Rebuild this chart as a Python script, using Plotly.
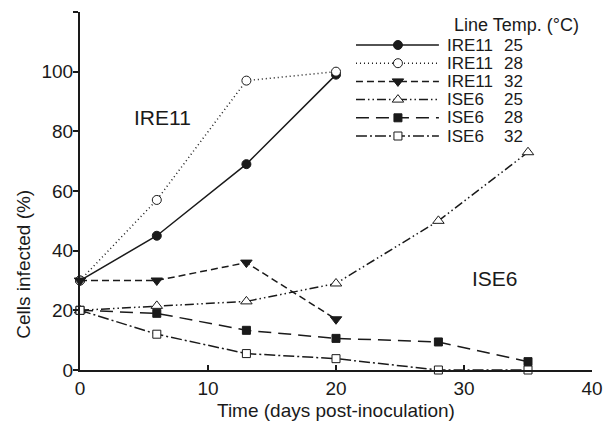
import plotly.graph_objects as go

# ---- data ----
lines_ = ["IRE11", "IRE11", "IRE11", "ISE6", "ISE6", "ISE6"]
temps = ["25", "28", "32", "25", "28", "32"]

days_ire = [0, 6, 13, 20]
days_ise = [0, 6, 13, 20, 28, 35]

ire11_25 = [30, 45, 69, 99]
ire11_28 = [30, 57, 97, 100]
ire11_32 = [30, 30, 36, 17]
ise6_25 = [20, 21.5, 23, 29, 50, 73]
ise6_28 = [20, 19, 13.3, 10.6, 9.4, 2.8]
ise6_32 = [20, 12, 5.5, 3.8, 0, 0]

xticks = [0, 10, 20, 30, 40]
yticks = [0, 20, 40, 60, 80, 100, 120]
yticktext = ["0", "20", "40", "60", "80", "100", ""]

FONT = "Liberation Sans, Arial, sans-serif"
INK = "#1a1a1a"

series = [
    (days_ire, ire11_25, "solid", "circle", INK, 9),
    (days_ire, ire11_28, "1px,3px", "circle", "white", 9),
    (days_ire, ire11_32, "7px,4px", "triangle-down", INK, 10),
    (days_ise, ise6_25, "9px,3px,1.5px,3px,1.5px,3px", "triangle-up", "white", 10),
    (days_ise, ise6_28, "13px,7px", "square", INK, 8),
    (days_ise, ise6_32, "11px,3px,2px,3px", "square", "white", 8),
]

fig = go.Figure()
for i, (xs, ys, dash, sym, fill, size) in enumerate(series):
    name = f"{lines_[i]} {temps[i]}"
    fig.add_trace(go.Scatter(
        x=xs, y=ys, mode="lines+markers", name=name, showlegend=False,
        cliponaxis=False,
        line=dict(color=INK, width=1.5, dash=dash),
        marker=dict(symbol=sym, size=size, color=fill, line=dict(color=INK, width=1)),
    ))
    # legend sample on hidden axes
    fig.add_trace(go.Scatter(
        x=[0, 1], y=[i, i], mode="lines", showlegend=False, hoverinfo="skip",
        xaxis="x2", yaxis="y2", cliponaxis=False,
        line=dict(color=INK, width=1.5, dash=dash),
    ))
    fig.add_trace(go.Scatter(
        x=[0.506], y=[i], mode="markers", showlegend=False, hoverinfo="skip",
        xaxis="x2", yaxis="y2", cliponaxis=False,
        marker=dict(symbol=sym, size=size, color=fill, line=dict(color=INK, width=1)),
    ))

annotations = []
for i in range(6):
    annotations.append(dict(x=0.712, y=i, xref="paper", yref="y2", text=lines_[i],
                            showarrow=False, xanchor="left", yanchor="middle",
                            font=dict(size=17, color=INK, family=FONT)))
    annotations.append(dict(x=0.8236, y=i, xref="paper", yref="y2", text=temps[i],
                            showarrow=False, xanchor="left", yanchor="middle",
                            font=dict(size=17, color=INK, family=FONT)))
annotations.append(dict(x=0.726, y=-1.1, xref="paper", yref="y2", text="Line Temp. (°C)",
                        showarrow=False, xanchor="left", yanchor="middle",
                        font=dict(size=18, color=INK, family=FONT)))
annotations.append(dict(x=4.1, y=84.7, xref="x", yref="y", text="IRE11",
                        showarrow=False, xanchor="left", yanchor="middle",
                        font=dict(size=21, color=INK, family=FONT)))
annotations.append(dict(x=32.4, y=30.8, xref="x", yref="y", text="ISE6",
                        showarrow=False, xanchor="center", yanchor="middle",
                        font=dict(size=21, color=INK, family=FONT)))
annotations.append(dict(x=0.5, y=-0.1145, xref="paper", yref="paper",
                        text="Time (days post-inoculation)", showarrow=False,
                        xanchor="center", yanchor="middle",
                        font=dict(size=19, color=INK, family=FONT)))
annotations.append(dict(x=-0.112, y=0.296, xref="paper", yref="paper",
                        text="Cells infected (%)", showarrow=False, textangle=-90,
                        xanchor="center", yanchor="middle",
                        font=dict(size=19, color=INK, family=FONT)))

fig.update_layout(
    width=606, height=425,
    margin=dict(l=80, r=14, t=12, b=55, autoexpand=False),
    paper_bgcolor="white", plot_bgcolor="rgba(0,0,0,0)",
    font=dict(family=FONT, size=19, color=INK),
    xaxis=dict(range=[0, 40], tickvals=xticks, ticks="inside", ticklen=5,
               tickwidth=1.5, tickcolor=INK, showline=True, linecolor=INK,
               linewidth=2, showgrid=False, zeroline=False, automargin=False,
               tickfont=dict(size=19, color=INK, family=FONT)),
    yaxis=dict(range=[0, 120], tickvals=yticks, ticktext=yticktext,
               ticks="outside", ticklen=5, tickwidth=1.5, tickcolor=INK,
               showline=True, linecolor=INK, linewidth=2, showgrid=False,
               zeroline=False, automargin=False, ticklabelstandoff=-4,
               tickfont=dict(size=19, color=INK, family=FONT)),
    xaxis2=dict(domain=[0.539, 0.701], range=[0, 1], anchor="y2", visible=False),
    yaxis2=dict(domain=[0, 1], range=[17.857, -1.813], anchor="x2", visible=False),
    annotations=annotations,
)

fig.write_html(
    "out.html",
    config={"displayModeBar": False},
    post_script="document.body.style.margin='0';document.body.style.overflow='hidden';",
)
